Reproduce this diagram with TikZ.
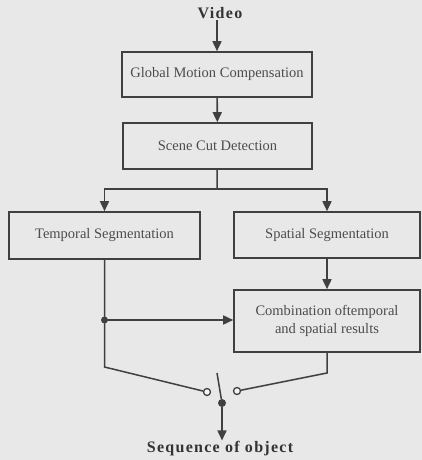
\documentclass[tikz,border=0pt]{standalone}
\usepackage{fontspec}
\setmainfont{Liberation Serif}
\usetikzlibrary{arrows.meta}
\begin{document}
\begin{tikzpicture}[
 x=1pt, y=-1pt,
 box/.style={rectangle, draw=black!75, line width=1.6pt, text=black!70, font=\fontsize{14.5}{18}\selectfont, align=center, inner sep=4pt},
 ttl/.style={font=\fontsize{16}{18}\selectfont\bfseries\addfontfeatures{LetterSpace=8}, text=black!80, inner sep=1pt},
 arr/.style={-{Triangle[width=9pt,length=10pt]}, line width=1.6pt, black!75},
 wire/.style={line width=1.5pt, black!75},
 contact/.style={circle, draw=black!75, line width=1.3pt, fill=black!4, minimum size=7pt, inner sep=0pt},
 pivot/.style={circle, fill=black!75, minimum size=8pt, inner sep=0pt},
]
\fill[black!9] (0,0) rectangle (422,460);
\node[ttl] (video) at (220,13) {Video};
\node[box, minimum width=190pt, minimum height=45pt] (gmc) at (217,74.5) {Global Motion Compensation};
\node[box, minimum width=189pt, minimum height=46pt] (scd) at (217.5,146) {Scene Cut Detection};
\node[box, minimum width=191pt, minimum height=47pt] (temporal) at (104.5,235.5) {Temporal Segmentation};
\node[box, minimum width=186pt, minimum height=46pt] (spatial) at (327,235) {Spatial Segmentation};
\node[box, minimum width=186pt, minimum height=62pt] (comb) at (327,321) {Combination oftemporal\\and spatial results};
\node[contact] (cl) at (207,392) {};
\node[contact] (cr) at (237,391) {};
\node[pivot] (sw) at (222,403) {};
\node[ttl] (seq) at (220,449) {Sequence of object};
\coordinate (split) at (217,189);
\coordinate (tap) at (104.5,320);
\coordinate (bendl) at (104.5,367);
\coordinate (bendr) at (327,373);
\coordinate (blade) at (217,373);

\draw[arr] (video.south -| gmc.north) -- (gmc);
\draw[arr] (gmc) -- (scd);
\draw[wire] (scd) -- (split);
\draw[arr] (split) -| (temporal);
\draw[arr] (split) -| (spatial);
\draw[arr] (spatial) -- (comb);
\draw[wire] (temporal.south) -- (bendl) -- (cl);
\fill[black!75] (tap) circle (3.5pt);
\draw[arr] (tap) -- (tap -| comb.west);
\draw[wire] (comb.south) -- (bendr) -- (cr);
\draw[wire] (blade) -- (sw);
\draw[arr] (sw) -- (sw |- seq.north);
\end{tikzpicture}
\end{document}
